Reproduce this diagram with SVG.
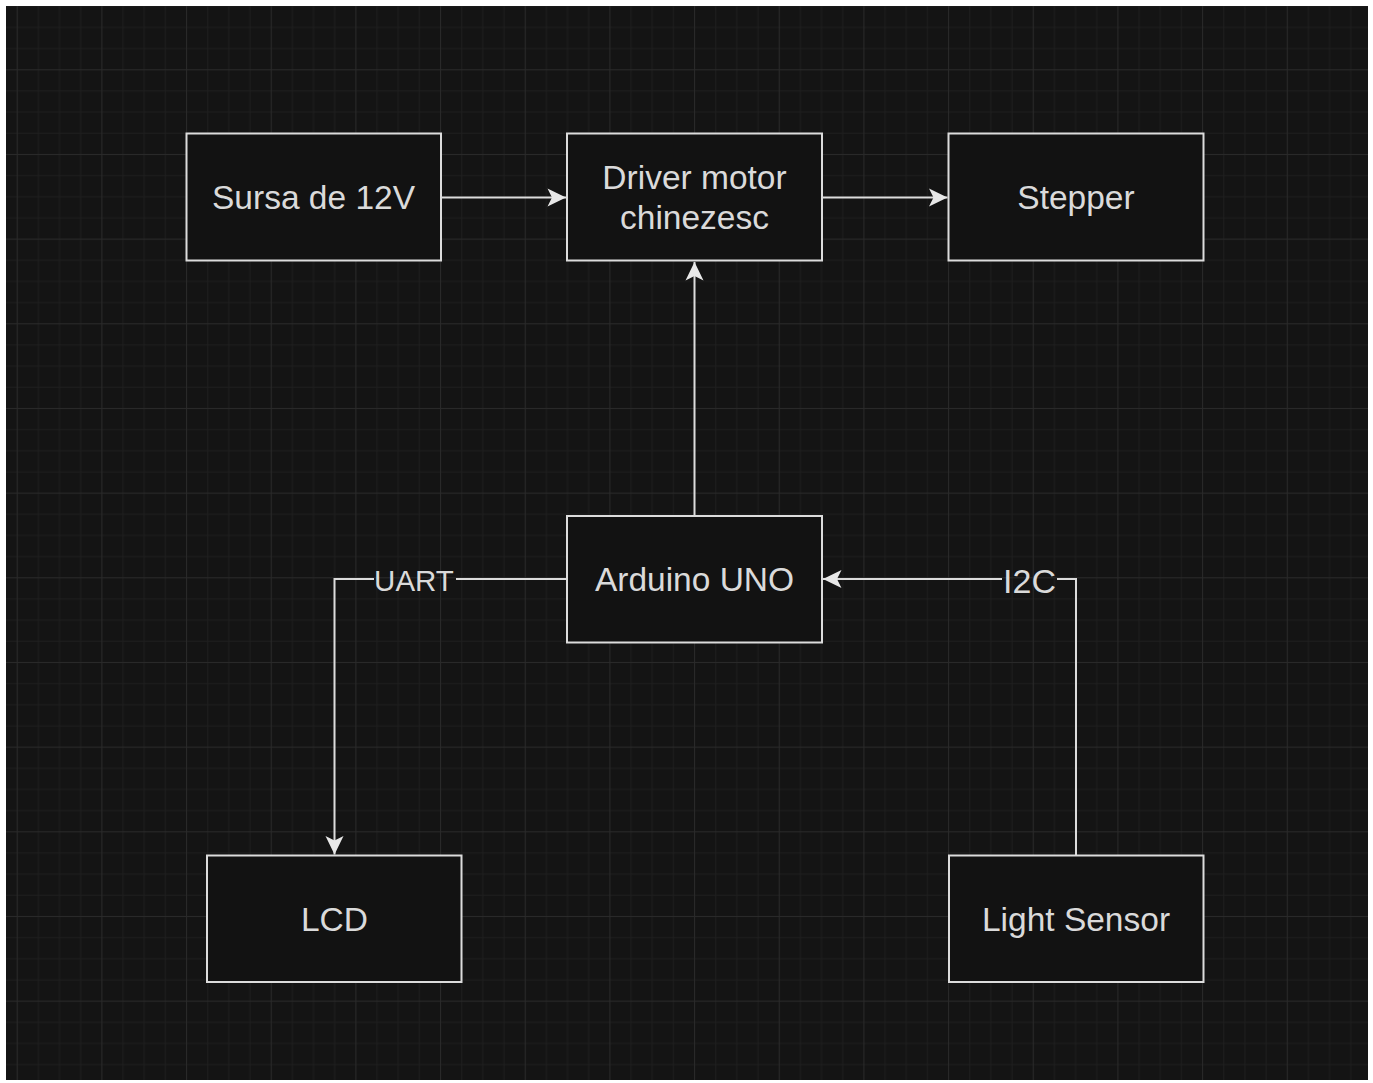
<svg xmlns="http://www.w3.org/2000/svg" width="1373" height="1083" viewBox="0 0 1373 1083">
  <defs>
    <style>
      .box { fill: #121212; stroke: #dcdcdc; stroke-width: 2; }
      .lbl { font-family: "Liberation Sans", Arial, sans-serif; font-size: 33.5px; fill: #dadada; text-anchor: middle; }
      .elbl { font-family: "Liberation Sans", Arial, sans-serif; fill: #dadada; text-anchor: middle; }
      .conn { fill: none; stroke: #dcdcdc; stroke-width: 2; }
    </style>
    <pattern id="grid" patternUnits="userSpaceOnUse" x="16.7" y="-15.4" width="84.67" height="84.67">
      <rect x="0" y="21.17" width="84.67" height="1" fill="#1e1e1e"/>
      <rect x="0" y="42.33" width="84.67" height="1" fill="#1e1e1e"/>
      <rect x="0" y="63.5" width="84.67" height="1" fill="#1e1e1e"/>
      <rect x="21.17" y="0" width="1" height="84.67" fill="#1e1e1e"/>
      <rect x="42.33" y="0" width="1" height="84.67" fill="#1e1e1e"/>
      <rect x="63.5" y="0" width="1" height="84.67" fill="#1e1e1e"/>
      <rect x="0" y="0" width="84.67" height="1" fill="#2a2a2a"/>
      <rect x="0" y="0" width="1" height="84.67" fill="#2a2a2a"/>
    </pattern>
    <marker id="arrow" markerUnits="userSpaceOnUse" markerWidth="20" markerHeight="20" viewBox="-19 -10 20 20" refX="0" refY="0" orient="auto">
      <path d="M0 0 L-18.5 -9 L-14 0 L-18.5 9 Z" fill="#e8e8e8"/>
    </marker>
  </defs>

  <rect x="0" y="0" width="1373" height="1083" fill="#ffffff"/>
  <rect x="6" y="6" width="1362" height="1074" fill="#141414"/>
  <rect x="6" y="6" width="1362" height="1074" fill="url(#grid)"/>

  <g id="connectors">
    <path class="conn" d="M441 197.5 H566" marker-end="url(#arrow)"/>
    <path class="conn" d="M822 197.5 H947.5" marker-end="url(#arrow)"/>
    <path class="conn" d="M694.5 516 V262" marker-end="url(#arrow)"/>
    <path class="conn" d="M567 579 H456"/>
    <path class="conn" d="M374 579 H334.5 V854.5" marker-end="url(#arrow)"/>
    <text class="elbl" x="414" y="591" font-size="29.5">UART</text>
    <path class="conn" d="M1076 855 V579 H1057"/>
    <path class="conn" d="M1002 579 H823" marker-end="url(#arrow)"/>
    <text class="elbl" x="1029.5" y="592.5" font-size="34">I2C</text>
  </g>

  <g id="sursa">
    <rect class="box" x="186.5" y="133.5" width="254.5" height="127"/>
    <text class="lbl" x="313.5" y="209">Sursa de 12V</text>
  </g>
  <g id="driver">
    <rect class="box" x="567" y="133.5" width="255" height="127"/>
    <text class="lbl" x="694.5" y="189">Driver motor</text>
    <text class="lbl" x="694.5" y="229">chinezesc</text>
  </g>
  <g id="stepper">
    <rect class="box" x="948.5" y="133.5" width="255" height="127"/>
    <text class="lbl" x="1076" y="209">Stepper</text>
  </g>
  <g id="arduino">
    <rect class="box" x="567" y="516" width="255" height="126.5"/>
    <text class="lbl" x="694.5" y="591">Arduino UNO</text>
  </g>
  <g id="lcd">
    <rect class="box" x="207" y="855.5" width="254.5" height="126.5"/>
    <text class="lbl" x="334.5" y="930.5">LCD</text>
  </g>
  <g id="light-sensor">
    <rect class="box" x="949" y="855.5" width="254.5" height="126.5"/>
    <text class="lbl" x="1076" y="930.5">Light Sensor</text>
  </g>
</svg>
